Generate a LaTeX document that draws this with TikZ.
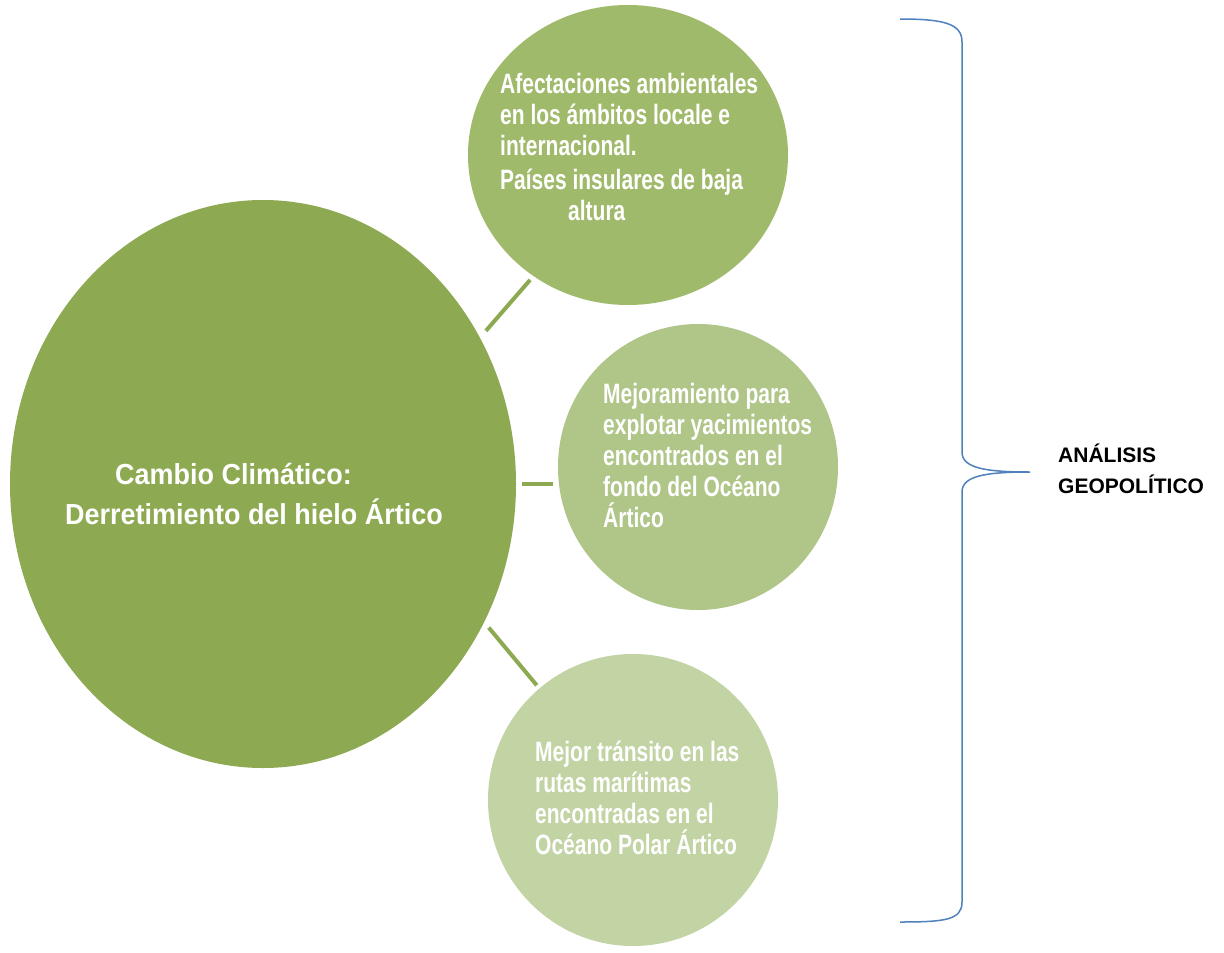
\documentclass[tikz,border=0pt]{standalone}
\usepackage{fontspec}
\setmainfont{Liberation Sans}
\newfontfamily\narrowsf[FakeStretch=0.75]{Liberation Sans}
\newfontfamily\titlesf[FakeStretch=0.93]{Liberation Sans}
\usetikzlibrary{shapes.geometric}
\definecolor{verde}{RGB}{141,169,81}
\definecolor{verdeA}{RGB}{160,186,107}
\definecolor{verdeB}{RGB}{176,198,137}
\definecolor{verdeC}{RGB}{194,211,164}
\definecolor{llave}{RGB}{79,129,189}
\begin{document}
\begin{tikzpicture}[x=1pt,y=-1pt,
    disco/.style={ellipse,draw=none,inner sep=0pt},
    texto/.style={text=white,inner sep=0pt,anchor=north west,align=left,font=\narrowsf\bfseries\fontsize{28}{31}\selectfont},
    enlace/.style={draw=verde,line width=4pt}]
    \useasboundingbox[fill=white] (0,0) rectangle (1224,953);
    \node[disco,fill=verde,minimum width=506pt,minimum height=568pt] (clima) at (263,484) {};
    \node[disco,fill=verdeA,minimum width=320pt,minimum height=300pt] (afect) at (628,155) {};
    \node[disco,fill=verdeB,minimum width=280pt,minimum height=286pt] (yacim) at (698,467) {};
    \node[disco,fill=verdeC,minimum width=290pt,minimum height=292pt] (rutas) at (633,800) {};
    \node[text=white,inner sep=0pt,anchor=north west,align=left,font=\titlesf\bfseries\fontsize{29}{40}\selectfont] (clima-t) at (65,463)
        {\hspace*{50pt}Cambio Climático:\\Derretimiento del hielo Ártico};
    \node[texto] (afect-t) at (500,73)
        {Afectaciones ambientales\\en los ámbitos locale e\\internacional.\\[3pt]Países insulares de baja\\\hspace*{68pt}altura};
    \node[texto] (yacim-t) at (603,383)
        {Mejoramiento para\\explotar yacimientos\\encontrados en el\\fondo del Océano\\Ártico};
    \node[texto] (rutas-t) at (535,741)
        {Mejor tránsito en las\\rutas marítimas\\encontradas en el\\Océano Polar Ártico};
    \draw[enlace,shorten <=9pt,shorten >=5pt] (clima.34) -- (afect.232);
    \draw[enlace,shorten <=6pt,shorten >=5pt] (clima.east) -- (clima.east -| yacim.west);
    \draw[enlace,shorten <=7pt,shorten >=4pt] (clima.-32) -- (rutas.130);
    \coordinate (pico) at (1030,472);
    \draw[llave,line width=1.5pt] (900,19) .. controls (945,19) and (962,24) .. (962,42) -- (962,452)
        .. controls (962,468) and (985,472) .. (pico)
        .. controls (985,472) and (962,476) .. (962,492) -- (962,902)
        .. controls (962,920) and (945,922) .. (900,922);
    \node[inner sep=0pt,anchor=north west,align=left,font=\bfseries\fontsize{21}{31}\selectfont] (geo) at (1058,444)
        {ANÁLISIS\\GEOPOLÍTICO};
\end{tikzpicture}
\end{document}
